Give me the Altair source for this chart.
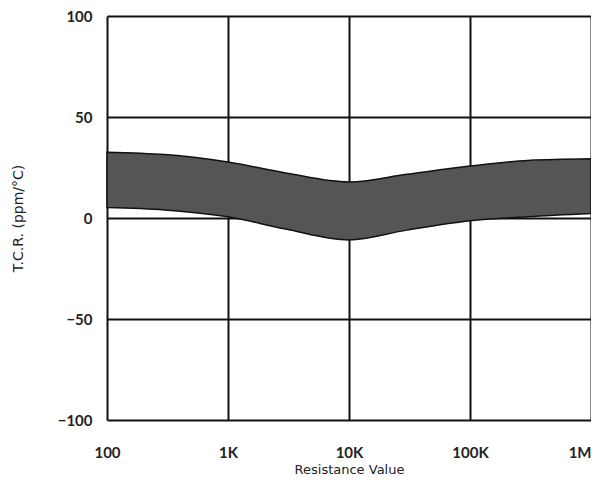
import altair as alt
import pandas as pd

resistance = [100, 300, 1000, 3000, 10000, 30000, 100000, 300000, 1000000]
upper = [32.6, 31.4, 27.7, 22.3, 17.8, 21.6, 25.7, 28.5, 29.3]
lower = [5.2, 4.0, 0.6, -5.5, -10.9, -6.0, -1.4, 0.6, 2.2]

tick_values = [100, 1000, 10000, 100000, 1000000]
tick_labels = ["100", "1K", "10K", "100K", "1M"]
y_ticks = [-100, -50, 0, 50, 100]

df = pd.DataFrame({"R": resistance, "upper": upper, "lower": lower})

label_map = "{" + ",".join(f"'{v}':'{l}'" for v, l in zip(tick_values, tick_labels)) + "}"

FONT = "Lato"
TFONT = "DejaVu Sans"

chart = alt.Chart(df).mark_area(
    interpolate="monotone", fill="#555555", stroke="#111111", strokeWidth=1.5
).encode(
    x=alt.X("R:Q",
            scale=alt.Scale(type="log", domain=[100, 1000000], nice=False),
            axis=alt.Axis(values=tick_values, labelExpr=label_map + "[datum.value]",
                          title="Resistance Value", grid=True, gridColor="#111111",
                          gridWidth=2, gridOpacity=1, ticks=False, domain=False,
                          labelPadding=25, labelBaseline="top", labelFontSize=15,
                          labelFont=FONT, labelFontWeight="bold", labelColor="#222222",
                          labelAlign={"expr": "datum.value == 1000000 ? 'right' : 'center'"},
                          labelOverlap=False,
                          titleFont=TFONT, titleFontSize=13, titleFontWeight="normal",
                          titleColor="#222222", titleY=43, titleBaseline="top")),
    y=alt.Y("upper:Q",
            scale=alt.Scale(domain=[-100, 100], nice=False),
            axis=alt.Axis(values=y_ticks, title="T.C.R. (ppm/°C)", grid=True,
                          gridColor="#111111", gridWidth=2, gridOpacity=1,
                          ticks=False, domain=False, labelPadding=15,
                          labelFontSize=15, labelFont=FONT, labelFontWeight="bold",
                          labelColor="#222222",
                          titleFont=TFONT, titleFontSize=14, titleFontWeight="normal",
                          titleColor="#222222", titleX=-89, titleBaseline="middle")),
    y2="lower:Q",
).properties(
    width=484, height=404,
    autosize=alt.AutoSizeParams(type="none"),
    padding={"left": 99, "top": 8, "right": 0, "bottom": 56},
).configure_view(
    stroke="#111111", strokeWidth=2
).configure(background="white")

chart.save("out.html", embed_options={"renderer": "svg", "actions": False})
